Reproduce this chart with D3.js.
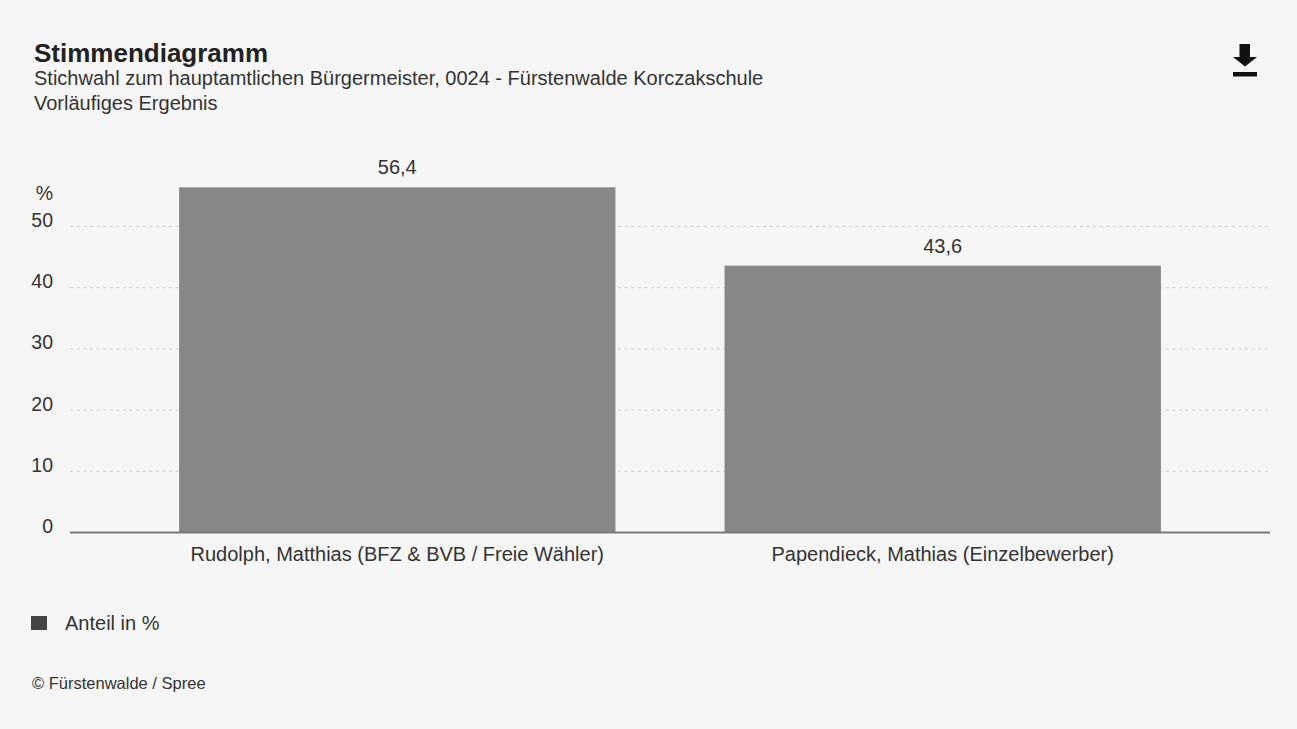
<!DOCTYPE html>
<html lang="de">
<head>
<meta charset="UTF-8">
<title>Stimmendiagramm</title>
<script src="https://d3js.org/d3.v7.min.js"></script>
<style>
    html, body { margin: 0; padding: 0; background: #f6f6f6; }
    svg { display: block; font-family: "Liberation Sans", Arial, sans-serif; }
</style>
</head>
<body>
<svg id="chart"></svg>
<script>
// Werte aus dem Stimmendiagramm
const candidates = ["Rudolph, Matthias (BFZ & BVB / Freie Wähler)", "Papendieck, Mathias (Einzelbewerber)"];
const shares = [56.4, 43.6];
const yTicks = [0, 10, 20, 30, 40, 50];
const title = "Stimmendiagramm";
const subtitles = ["Stichwahl zum hauptamtlichen Bürgermeister, 0024 - Fürstenwalde Korczakschule", "Vorläufiges Ergebnis"];
const legendLabel = "Anteil in %";
const source = "© Fürstenwalde / Spree";

const width = 1297, height = 729;
const left = 70, right = 1270, bottom = 532.5;
const svg = d3.select('#chart').attr('width', width).attr('height', height);

svg.append('rect').attr('width', width).attr('height', height).attr('fill', '#f6f6f6');

// header
svg.append('text').attr('x', 34).attr('y', 62)
    .attr('font-size', 26).attr('font-weight', 'bold').attr('fill', '#222')
    .text(title);
subtitles.forEach((s, i) => {
    svg.append('text').attr('x', 34).attr('y', 85 + i * 25)
        .attr('font-size', 20).attr('fill', '#333')
        .text(s);
});

// download icon
svg.append('path')
    .attr('d', 'M1239.5,44 H1250 V57 H1257 L1245,66.5 L1233,57 H1239.5 Z M1233,72 H1257 V76.5 H1233 Z')
    .attr('fill', '#111');

const x = d3.scaleBand().domain(candidates).range([left, right]).paddingInner(0.2).paddingOuter(0.2);
const y = d3.scaleLinear().domain([0, 50]).range([bottom, 226.5]);

// grid
svg.append('g').selectAll('line')
    .data(yTicks.filter(d => d > 0))
    .join('line')
    .attr('x1', left).attr('x2', right)
    .attr('y1', d => y(d)).attr('y2', d => y(d))
    .attr('stroke', '#d2d2d2').attr('stroke-width', 1)
    .attr('stroke-dasharray', '3.3,3.3');

// y axis labels
const yAxis = svg.append('g')
    .attr('transform', `translate(${left},0)`)
    .call(d3.axisLeft(y).tickValues(yTicks).tickSize(0).tickPadding(17).tickFormat(d3.format('d')));
yAxis.select('.domain').remove();
yAxis.selectAll('text')
    .attr('dy', 0)
    .attr('font-family', '"Liberation Sans", Arial, sans-serif')
    .attr('font-size', 19.5).attr('fill', '#333');
svg.append('text').attr('x', 53).attr('y', 200)
    .attr('text-anchor', 'end').attr('font-size', 19.5).attr('fill', '#333')
    .text('%');

// bars
svg.append('g').selectAll('rect')
    .data(candidates)
    .join('rect')
    .attr('x', d => x(d))
    .attr('width', x.bandwidth())
    .attr('y', (d, i) => y(shares[i]))
    .attr('height', (d, i) => y(0) - y(shares[i]))
    .attr('fill', '#878787');

// value labels
svg.append('g').selectAll('text')
    .data(candidates)
    .join('text')
    .attr('x', d => x(d) + x.bandwidth() / 2)
    .attr('y', (d, i) => y(shares[i]) - 13)
    .attr('text-anchor', 'middle').attr('font-size', 20).attr('fill', '#333')
    .text((d, i) => d3.format('.1f')(shares[i]).replace('.', ','));

// x axis
const xAxis = svg.append('g')
    .attr('transform', `translate(0,${bottom})`)
    .call(d3.axisBottom(x).tickSize(0).tickPadding(28));
xAxis.select('.domain').attr('stroke', '#7a7a7a').attr('stroke-width', 2)
    .attr('d', `M${left},0H${right}`);
xAxis.selectAll('text')
    .attr('dy', 0)
    .attr('font-family', '"Liberation Sans", Arial, sans-serif')
    .attr('font-size', 20).attr('fill', '#333');

// legend
svg.append('rect').attr('x', 31).attr('y', 616).attr('width', 16).attr('height', 14).attr('fill', '#444');
svg.append('text').attr('x', 65).attr('y', 630)
    .attr('font-size', 20).attr('fill', '#333').text(legendLabel);

// source
svg.append('text').attr('x', 32).attr('y', 689)
    .attr('font-size', 16.5).attr('fill', '#333').text(source);
</script>
</body>
</html>
